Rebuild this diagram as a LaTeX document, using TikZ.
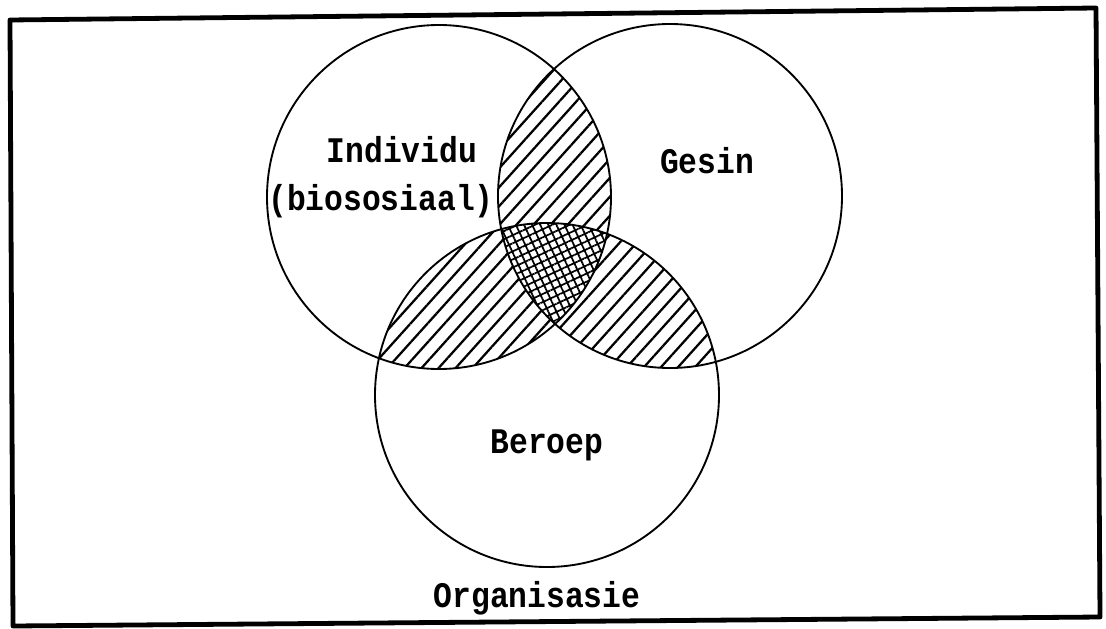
\documentclass[tikz,border=0pt]{standalone}
\usepackage{fontspec}
\newfontfamily\typefont{Liberation Mono}[FakeStretch=0.87]
\usetikzlibrary{patterns.meta}
\tikzset{
  setline/.style={
    draw=black,
    line width=1.4pt,
  },
  pairhatch/.style={
    pattern={Lines[angle=48, distance=9.5pt, line width=1.7pt]},
  },
  triplehatch/.style={
    pattern={Hatch[angle=25, distance=5.5pt, line width=1.3pt]},
  },
  setlabel/.style={
    font=\typefont\bfseries\fontsize{27}{30}\selectfont,
    anchor=base,
    inner sep=0pt,
  },
  framebox/.style={
    draw=black,
    line width=3.6pt,
    line join=round,
  },
}

\begin{document}
\begin{tikzpicture}[x=0.75pt, y=-0.75pt]

\path[use as bounding box] (0,0) rectangle (1106,628);

% --- Set centres ---
\coordinate (indiv) at (439,197);
\coordinate (gesin) at (670,196);
\coordinate (beroep) at (547,395);

% --- Pairwise overlaps ---
\begin{scope}
  \clip (indiv) circle (172);
  \fill[pairhatch] (gesin) circle (172);
  \fill[pairhatch] (beroep) circle (172);
\end{scope}
\begin{scope}
  \clip (gesin) circle (172);
  \fill[pairhatch] (beroep) circle (172);
\end{scope}

% --- Triple overlap ---
\begin{scope}
  \clip (indiv) circle (172);
  \clip (gesin) circle (172);
  \fill[white] (beroep) circle (172);
  \fill[triplehatch] (beroep) circle (172);
\end{scope}

% --- Circles ---
\draw[setline] (indiv) circle (172);
\draw[setline] (gesin) circle (172);
\draw[setline] (beroep) circle (172);

% --- Labels ---
\node[setlabel] (indivlabel) at (402,162) {Individu};
\node[setlabel] (biolabel) at (381,210) {(biososiaal)};
\node[setlabel] (gesinlabel) at (707,173) {Gesin};
\node[setlabel] (beroeplabel) at (547,453) {Beroep};
\node[setlabel] (orglabel) at (537,607) {Organisasie};

% --- Frame ---
\coordinate (tl) at (10,20);
\coordinate (tr) at (1096,8);
\coordinate (br) at (1100,617);
\coordinate (bl) at (13,626);
\draw[framebox] (tl) -- (tr) -- (br) -- (bl) -- cycle;

\end{tikzpicture}
\end{document}
